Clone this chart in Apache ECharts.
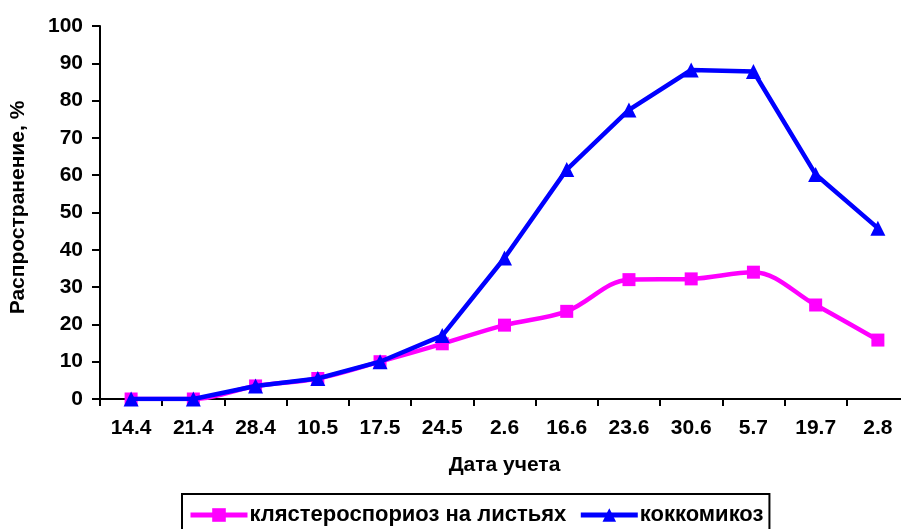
<!DOCTYPE html>
<html>
<head>
<meta charset="utf-8">
<script src="https://cdn.jsdelivr.net/npm/echarts@6/dist/echarts.min.js"></script>
<style>
html,body{margin:0;padding:0;background:#fff;overflow:hidden;width:901px;height:529px;}
#chart{width:910px;height:529px;}
</style>
</head>
<body>
<div id="chart"></div>
<script>
const categories = ['14.4','21.4','28.4','10.5','17.5','24.5','2.6','16.6','23.6','30.6','5.7','19.7','2.8'];
const klasterosporioz = [0, 0, 3.5, 5.5, 10, 14.8, 19.8, 23.5, 32, 32.2, 34, 25.2, 15.8];
const kokkomikoz = [0, 0, 3.5, 5.5, 10, 17, 37.8, 61.5, 77.5, 88.2, 87.8, 60.2, 45.8];
const yTicks = { min: 0, max: 100, interval: 10 };
const seriesNames = ['клястероспориоз на листьях', 'коккомикоз'];
const axisNames = { x: 'Дата учета', y: 'Распространение, %' };

const FONT = '"Liberation Sans", Arial, sans-serif';
const FS = 21;
const chart = echarts.init(document.getElementById('chart'), null, {renderer: 'canvas'});
chart.setOption({
  animation: false,
  backgroundColor: '#fff',
  grid: { left: 97, right: 1, top: 26, bottom: 130, containLabel: false },
  legend: {
    left: 182, top: 494,
    padding: [10, 6, 20, 6],
    itemWidth: 57, itemHeight: 17, itemGap: 12,
    borderColor: '#000', borderWidth: 2, borderRadius: 0,
    lineStyle: { width: 5 },
    textStyle: { fontFamily: FONT, fontWeight: 'bold', fontSize: 22, color: '#000', padding: [0,0,0,-3] },
    data: seriesNames
  },
  xAxis: {
    type: 'category',
    data: categories,
    boundaryGap: true,
    name: axisNames.x,
    nameLocation: 'middle',
    nameGap: 56,
    nameTextStyle: { fontFamily: FONT, fontWeight: 'bold', fontSize: FS, color: '#000' },
    axisLine: { lineStyle: { color: '#000', width: 2 } },
    axisTick: { show: true, alignWithLabel: false, length: 7, lineStyle: { color: '#000', width: 2 } },
    axisLabel: { fontFamily: FONT, fontWeight: 'bold', fontSize: FS, color: '#000', margin: 19, interval: 0 },
    splitLine: { show: false }
  },
  yAxis: {
    type: 'value',
    min: yTicks.min, max: yTicks.max, interval: yTicks.interval,
    name: axisNames.y,
    nameLocation: 'middle',
    nameGap: 71,
    nameRotate: 90,
    nameTextStyle: { fontFamily: FONT, fontWeight: 'bold', fontSize: FS, color: '#000', padding: [0, 0, 0, 10] },
    axisLine: { show: true, lineStyle: { color: '#000', width: 2 } },
    axisTick: { show: true, length: 8, lineStyle: { color: '#000', width: 2 } },
    axisLabel: { fontFamily: FONT, fontWeight: 'bold', fontSize: FS, color: '#000', margin: 17 },
    splitLine: { show: false }
  },
  series: [
    {
      name: seriesNames[0],
      type: 'line',
      data: klasterosporioz,
      smooth: 0.35,
      symbol: 'rect',
      symbolSize: 13,
      color: '#FF00FF',
      lineStyle: { color: '#FF00FF', width: 4.5 },
      itemStyle: { color: '#FF00FF' },
      z: 2
    },
    {
      name: seriesNames[1],
      type: 'line',
      data: kokkomikoz,
      smooth: false,
      symbol: 'triangle',
      symbolSize: 15,
      color: '#0000FF',
      lineStyle: { color: '#0000FF', width: 4.5 },
      itemStyle: { color: '#0000FF' },
      z: 3
    }
  ]
});
</script>
</body>
</html>
